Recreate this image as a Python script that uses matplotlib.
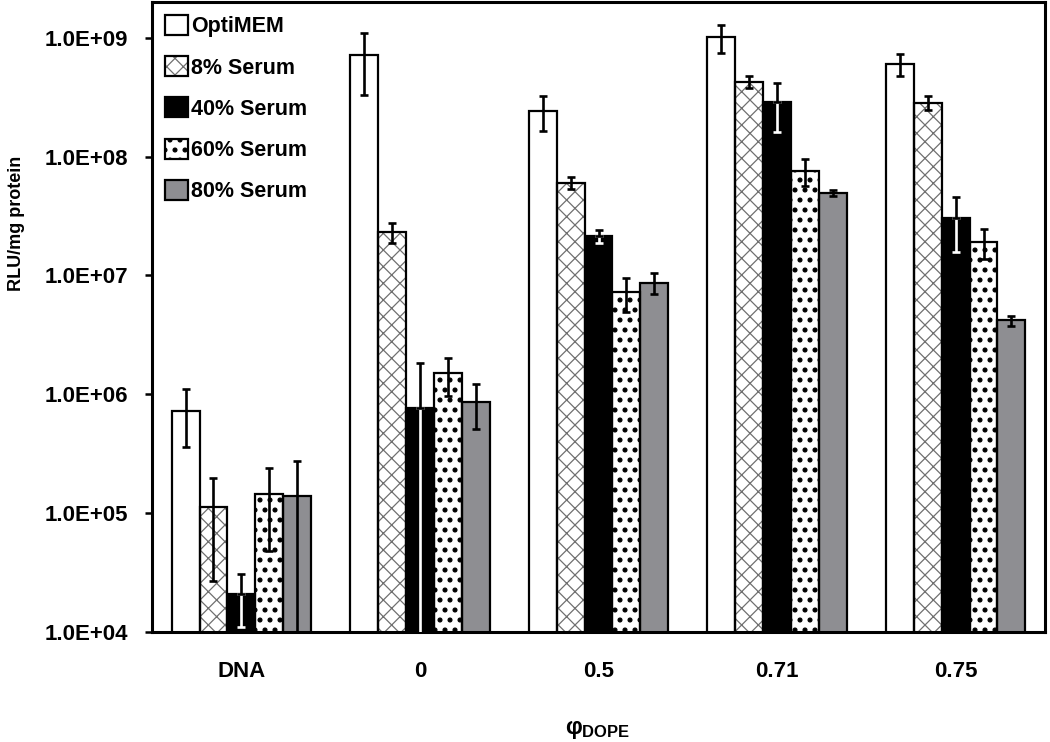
import numpy as np
import matplotlib
matplotlib.use("Agg")
import matplotlib.pyplot as plt
import matplotlib.hatch as mhatch
from matplotlib.patches import Patch
from matplotlib.ticker import FixedLocator, FuncFormatter, NullLocator

plt.rcParams['font.family'] = ['Liberation Sans', 'DejaVu Sans']
plt.rcParams['font.weight'] = 'bold'
plt.rcParams['mathtext.fontset'] = 'custom'
plt.rcParams['mathtext.rm'] = 'Liberation Sans'
plt.rcParams['mathtext.it'] = 'Liberation Sans'
plt.rcParams['mathtext.bf'] = 'Liberation Sans:bold'
plt.rcParams['hatch.linewidth'] = 0.9


# pontos maiores e mais espaçados na hachura '.' (num_rows tem de ser par)
def _pontos_init(self, hatch, density):
    self.num_rows = hatch.count('.') * 10
    mhatch.Circles.__init__(self, hatch, density)


mhatch.SmallFilledCircles.__init__ = _pontos_init
mhatch.SmallFilledCircles.size = 0.19

# Dados
grupos = ["DNA", "0", "0.5", "0.71", "0.75"]
series = ["OptiMEM", "8% Serum", "40% Serum", "60% Serum", "80% Serum"]

optimem = [7.3e5, 7.1e8, 2.44e8, 1.02e9, 6.05e8]
optimem_err = [3.7e5, 3.8e8, 8.0e7, 2.7e8, 1.3e8]
soro8 = [1.12e5, 2.34e7, 6.05e7, 4.27e8, 2.85e8]
soro8_err = [8.5e4, 4.5e6, 7.0e6, 5.0e7, 4.0e7]
soro40 = [2.1e4, 7.6e5, 2.13e7, 2.9e8, 3.07e7]
soro40_err = [1.0e4, 1.06e6, 2.6e6, 1.3e8, 1.5e7]
soro60 = [1.44e5, 1.5e6, 7.2e6, 7.62e7, 1.93e7]
soro60_err = [9.6e4, 5.4e5, 2.3e6, 2.0e7, 5.5e6]
soro80 = [1.39e5, 8.6e5, 8.7e6, 4.98e7, 4.19e6]
soro80_err = [1.38e5, 3.5e5, 1.7e6, 3.0e6, 4.0e5]

valores = [optimem, soro8, soro40, soro60, soro80]
erros = [optimem_err, soro8_err, soro40_err, soro60_err, soro80_err]

# estilo de cada série: (cor, hachura, cor da hachura)
estilos = [("white", None, "black"),
           ("white", "xx", "#707070"),
           ("black", None, "black"),
           ("white", ".", "black"),
           ("#8e8e92", None, "black")]

fig = plt.figure(figsize=(10.5, 7.42), dpi=100)
ax = fig.add_axes([152/1050, 1-632/742, (1045-152)/1050, (632-2)/742])

x = np.arange(len(grupos))
w = 0.156
lw_err = 1.9
handles = []
for i in range(5):
    pos = x + (i-2)*w
    cor, hach, hcor = estilos[i]
    v = np.array(valores[i])
    e = np.array(erros[i])
    ax.bar(pos, v, w, color=cor, hatch=hach, edgecolor=hcor, linewidth=0, zorder=2)
    ax.bar(pos, v, w, facecolor="none", edgecolor="black", linewidth=1.6, zorder=3)
    if cor == "black":
        # parte de baixo da barra de erro fica branca dentro da barra preta
        ax.errorbar(pos, v, yerr=[e, np.zeros_like(e)], fmt="none", ecolor="white",
                    elinewidth=lw_err, capsize=3.2, capthick=lw_err, zorder=4)
        ax.errorbar(pos, v, yerr=[np.zeros_like(e), e], fmt="none", ecolor="black",
                    elinewidth=lw_err, capsize=3.2, capthick=lw_err, zorder=5)
    else:
        ax.errorbar(pos, v, yerr=e, fmt="none", ecolor="black",
                    elinewidth=lw_err, capsize=3.2, capthick=lw_err, zorder=5)
    h1 = Patch(facecolor=cor, hatch=hach, edgecolor=hcor, linewidth=0)
    h2 = Patch(facecolor="none", edgecolor="black", linewidth=1.6)
    handles.append((h1, h2))

ax.set_yscale("log")
ax.set_ylim(1e4, 2e9)
ax.set_xlim(-0.5, 4.5)
ax.yaxis.set_major_locator(FixedLocator([1e4, 1e5, 1e6, 1e7, 1e8, 1e9]))
ax.yaxis.set_minor_locator(NullLocator())
ax.yaxis.set_major_formatter(FuncFormatter(lambda v, p: "1.0E+%02d" % round(np.log10(v))))
ax.tick_params(axis="y", direction="out", length=5, width=1.8, labelsize=16, pad=12)
ax.set_xticks(x)
ax.set_xticklabels(grupos)
ax.tick_params(axis="x", length=0, labelsize=16, pad=21)
for s in ax.spines.values():
    s.set_linewidth(2.2)

fig.text(598/1050, 1/742, r"$\varphi_{\mathbf{DOPE}}$", ha="center", va="bottom",
         fontsize=17, fontweight="normal")
fig.text(17/1050, 1-223/742, "RLU/mg protein", rotation=90, ha="center", va="center",
         fontsize=13, fontweight="bold")

ax.legend(handles, series, loc="upper left", bbox_to_anchor=(0.0, 1.0), frameon=False,
          handlelength=1.05, handleheight=1.05, handletextpad=0.15,
          labelspacing=0.88, borderaxespad=0.3, borderpad=0.3,
          prop={"weight": "bold", "size": 15.5})

fig.savefig("out.png", dpi=100)
